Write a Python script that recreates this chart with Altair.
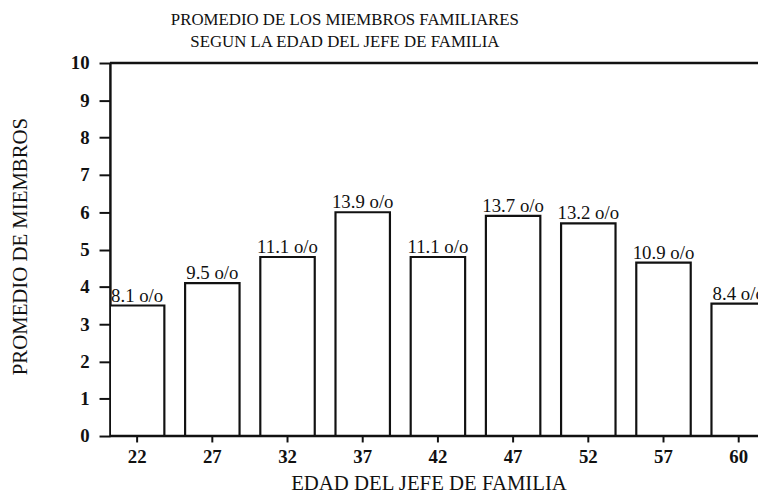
import altair as alt
import pandas as pd

edades = ["22", "27", "32", "37", "42", "47", "52", "57", "60"]
promedio = [3.5, 4.1, 4.8, 6.0, 4.8, 5.9, 5.7, 4.65, 3.55]
porcentaje = ["8.1", "9.5", "11.1", "13.9", "11.1", "13.7", "13.2", "10.9", "8.4"]
ticks_y = [0, 1, 2, 3, 4, 5, 6, 7, 8, 9, 10]

df = pd.DataFrame({
    "edad": edades,
    "promedio": promedio,
    "etiqueta": [p + " o/o" for p in porcentaje],
})

W = 655
H = 377
SERIF = "Liberation Serif"
INK = "#111111"

xscale = alt.Scale(domain=edades, range=[0, 663], paddingInner=0.276, paddingOuter=0)
yscale = alt.Scale(domain=[0, 10], nice=False)

x_axis = alt.Axis(
    title="EDAD DEL JEFE DE FAMILIA", labelAngle=0, domain=False,
    tickSize=6, tickWidth=2, tickColor=INK,
    labelFont=SERIF, labelFontSize=19, labelFontWeight="bold", labelColor=INK,
    labelPadding=6,
    titleFont=SERIF, titleFontSize=21, titleFontWeight="normal", titleColor=INK,
    titleX=322, titleY=54, titleBaseline="alphabetic", titleAnchor="middle",
)
y_axis = alt.Axis(
    title="PROMEDIO DE MIEMBROS", values=ticks_y, grid=False,
    labelOverlap=False,
    domainWidth=2.5, domainColor=INK, tickSize=11, tickWidth=2, tickColor=INK,
    labelFont=SERIF, labelFontSize=19, labelFontWeight="bold", labelColor=INK,
    labelPadding=10,
    titleFont=SERIF, titleFontSize=21, titleFontWeight="normal", titleColor=INK,
    titleX=-84, titleY=185, titleBaseline="alphabetic", titleAngle=-90,
)

x_enc = alt.X("edad:O", scale=xscale, sort=edades, axis=x_axis)
y_enc = alt.Y("promedio:Q", scale=yscale, axis=y_axis)

base = alt.Chart(df)

bars = base.mark_bar(fill="white", stroke=INK, strokeWidth=2.2, clip=True).encode(
    x=x_enc, y=y_enc
)

labels = base.mark_text(
    font=SERIF, fontSize=19, color=INK, baseline="alphabetic", dy=-4, clip=True
).encode(x=x_enc, y=y_enc, text="etiqueta:N")

top_rule = alt.Chart(pd.DataFrame({"promedio": [10]})).mark_rule(
    color=INK, strokeWidth=2.5
).encode(y=y_enc, x=alt.value(0), x2=alt.value(W))

base_rule = alt.Chart(pd.DataFrame({"promedio": [0]})).mark_rule(
    color=INK, strokeWidth=2.5
).encode(y=y_enc, x=alt.value(0), x2=alt.value(W))

chart = alt.layer(bars, labels, top_rule, base_rule).properties(
    width=W,
    height=H,
    autosize=alt.AutoSizeParams(type="none"),
    padding={"left": 103, "top": 53, "right": 0, "bottom": 58},
    title=alt.TitleParams(
        text=["PROMEDIO DE LOS MIEMBROS FAMILIARES", "SEGUN LA EDAD DEL JEFE DE FAMILIA"],
        font=SERIF, fontSize=17, fontWeight="normal", color=INK,
        anchor="middle", frame="group", dx=-90, offset=3, lineHeight=22,
    ),
).configure_view(stroke=None).configure(background="white")

chart.save("out.html", embed_options={"renderer": "svg", "actions": False})
